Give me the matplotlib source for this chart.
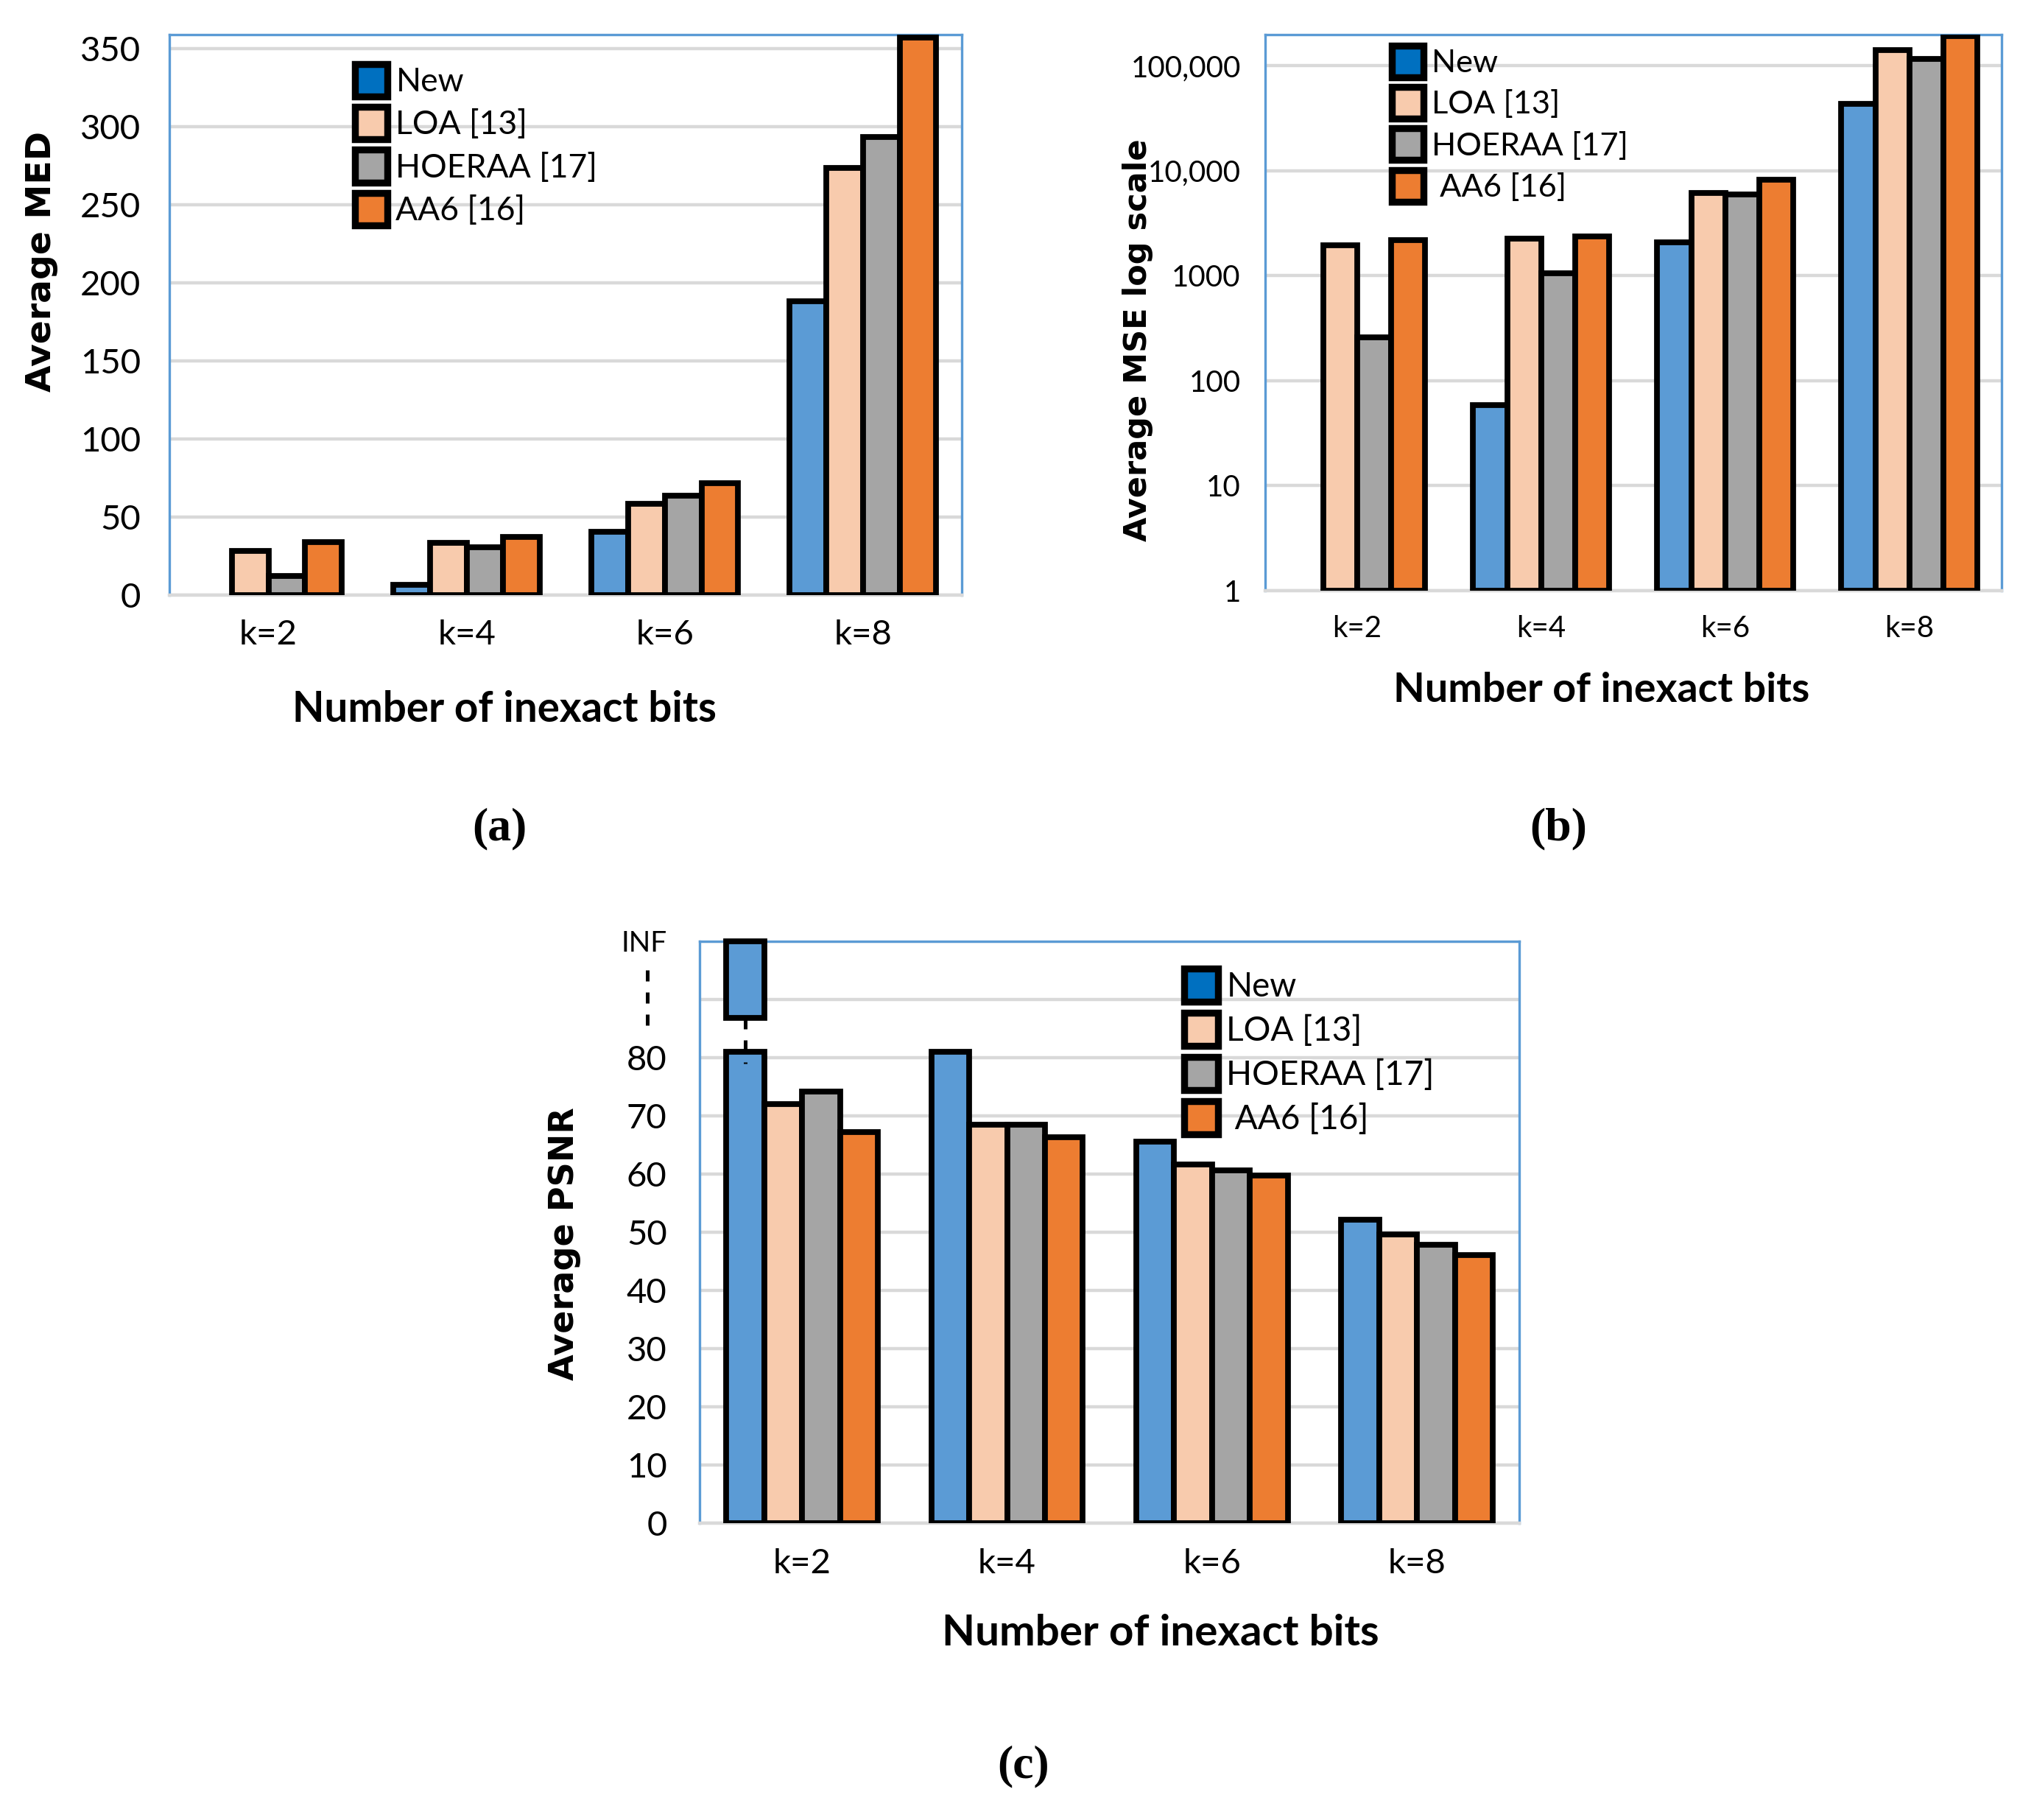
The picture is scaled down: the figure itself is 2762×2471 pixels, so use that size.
import numpy as np
import matplotlib
matplotlib.use('agg')
import matplotlib.pyplot as plt
from matplotlib.patches import Patch
import matplotlib.transforms as mtransforms

# data
categories = ['k=2', 'k=4', 'k=6', 'k=8']
series = ['New', 'LOA [13]', 'HOERAA [17]', 'AA6 [16]']

med_new = [np.nan, 6.5, 40.5, 188]
med_loa = [28.3, 33.5, 58.5, 273.5]
med_hoeraa = [12.5, 30.5, 63.5, 293.5]
med_aa6 = [34, 37.5, 71.5, 357]

mse_new = [np.nan, 58.5, 2075, 43500]
mse_loa = [1960, 2245, 6120, 140800]
mse_hoeraa = [260, 1047, 5920, 116000]
mse_aa6 = [2197, 2378, 8140, 191000]

psnr_new = [81, 81, 65.5, 52.1]
psnr_loa = [72.0, 68.5, 61.6, 49.6]
psnr_hoeraa = [74.1, 68.5, 60.6, 47.8]
psnr_aa6 = [67.2, 66.3, 59.7, 46.0]
psnr_inf_box = [86.8, 100]   # the floating "INF" block for New at k=2

bar_colors = ['#5b9bd5', '#f8cbad', '#a5a5a5', '#ed7d31']
legend_colors = ['#0070c0', '#f8cbad', '#a5a5a5', '#ed7d31']
spine_blue = '#5b9bd5'
grid_gray = '#d9d9d9'
EDGE_LW = 2.8

tick_font = ['Lato', 'DejaVu Sans']
plt.rcParams['font.family'] = tick_font

fig = plt.figure(figsize=(13.81, 12.355), dpi=200)

ax_a = fig.add_axes([0.0833, 0.673, 0.473 - 0.0833, 0.981 - 0.673])
ax_b = fig.add_axes([0.622, 0.6755, 0.984 - 0.622, 0.981 - 0.6755])
ax_c = fig.add_axes([0.344, 0.163, 0.747 - 0.344, 0.483 - 0.163])

x = np.arange(len(categories))
bw = 0.185


def draw_bars(ax, groups, bottom=0):
    for i, vals in enumerate(groups):
        off = (i - 1.5) * bw
        vals = np.array(vals, dtype=float)
        m = ~np.isnan(vals)
        ax.bar(x[m] + off, vals[m] - bottom, bw, bottom=bottom, color=bar_colors[i],
               edgecolor='black', linewidth=EDGE_LW, zorder=3)


def style(ax, size=17):
    ax.set_xlim(-0.5, len(categories) - 0.5)
    ax.set_xticks(x)
    ax.set_xticklabels(categories)
    ax.tick_params(axis='both', length=0, labelsize=size)
    ax.tick_params(axis='x', pad=12)
    ax.grid(axis='y', color=grid_gray, linewidth=1.6, zorder=0)
    ax.set_axisbelow(True)
    for s in ['left', 'right', 'top']:
        ax.spines[s].set_color(spine_blue)
        ax.spines[s].set_linewidth(1.2)
    ax.spines['bottom'].set_color(grid_gray)
    ax.spines['bottom'].set_linewidth(1.6)


def legend(ax, loc_xy, labels, size=16):
    handles = [Patch(facecolor=c, edgecolor='black', linewidth=EDGE_LW + 0.6) for c in legend_colors]
    ax.legend(handles, labels, loc='upper left', bbox_to_anchor=loc_xy, frameon=False,
              fontsize=size, handlelength=1.0, handleheight=1.15, handletextpad=0.25,
              labelspacing=0.3, borderaxespad=0, borderpad=0)


def xlabel(ax, size, xy):
    ax.set_xlabel('Number of inexact bits', fontsize=size, fontweight='bold', family=tick_font)
    ax.xaxis.set_label_coords(*xy)


def ylabel(ax, text, size, xy):
    ax.set_ylabel(text, fontsize=size, fontweight='bold', family=['DejaVu Sans'])
    ax.yaxis.set_label_coords(*xy)


# (a) Average MED
draw_bars(ax_a, [med_new, med_loa, med_hoeraa, med_aa6])
style(ax_a)
ax_a.set_ylim(0, 359)
ax_a.set_yticks(np.arange(0, 351, 50))
ax_a.tick_params(axis='y', pad=14)
ylabel(ax_a, 'Average MED', 17, (-0.14, 0.595))
xlabel(ax_a, 20.4, (0.423, -0.17))
legend(ax_a, (0.234, 0.948), series)

# (b) Average MSE, log scale
ax_b.set_yscale('log')
draw_bars(ax_b, [mse_new, mse_loa, mse_hoeraa, mse_aa6], bottom=1)
style(ax_b, 14.5)
ax_b.set_ylim(1, 198000)
ax_b.set_yticks([1, 10, 100, 1000, 10000, 100000])
ax_b.set_yticklabels(['1', '10', '100', '1000', '10,000', '100,000'])
ax_b.yaxis.set_minor_locator(matplotlib.ticker.NullLocator())
ax_b.tick_params(axis='y', pad=12)
ylabel(ax_b, 'Average MSE log scale', 15.5, (-0.152, 0.45))
xlabel(ax_b, 20, (0.457, -0.146))
legend(ax_b, (0.172, 0.98), ['New', 'LOA [13]', 'HOERAA [17]', ' AA6 [16]'], 15.6)

# (c) Average PSNR
draw_bars(ax_c, [psnr_new, psnr_loa, psnr_hoeraa, psnr_aa6])
ax_c.bar(x[0] - 1.5 * bw, psnr_inf_box[1] - psnr_inf_box[0], bw, bottom=psnr_inf_box[0],
         color=bar_colors[0], edgecolor='black', linewidth=EDGE_LW, zorder=3, clip_on=False)
ax_c.plot([x[0] - 1.5 * bw] * 2, [psnr_inf_box[0], psnr_new[0] - 2], color='black',
          linestyle=(0, (3, 3)), linewidth=1.8, zorder=4)
style(ax_c)
ax_c.set_ylim(0, 100)
ax_c.set_yticks(np.arange(0, 101, 10))
ax_c.set_yticklabels([str(v) for v in range(0, 81, 10)] + ['', 'INF'])
ax_c.get_yticklabels()[-1].set_fontsize(14)
ax_c.tick_params(axis='y', pad=16)
trans = mtransforms.blended_transform_factory(ax_c.transAxes, ax_c.transData)
ax_c.plot([-0.064, -0.064], [85.5, 95.5], transform=trans, color='black',
          linestyle=(0, (3, 3)), linewidth=1.8, clip_on=False)
ylabel(ax_c, 'Average PSNR', 16.6, (-0.145, 0.48))
xlabel(ax_c, 21, (0.562, -0.155))
legend(ax_c, (0.591, 0.953), ['New', 'LOA [13]', 'HOERAA [17]', ' AA6 [16]'], 16.5)

# panel captions
cap_kw = dict(fontsize=23, fontweight='bold', family=['Liberation Serif'], ha='center', va='center')
fig.text(0.2455, 0.5444, '(a)', **cap_kw)
fig.text(0.766, 0.5444, '(b)', **cap_kw)
fig.text(0.503, 0.0294, '(c)', **cap_kw)

fig.savefig('out.png', dpi=200, facecolor='white')
